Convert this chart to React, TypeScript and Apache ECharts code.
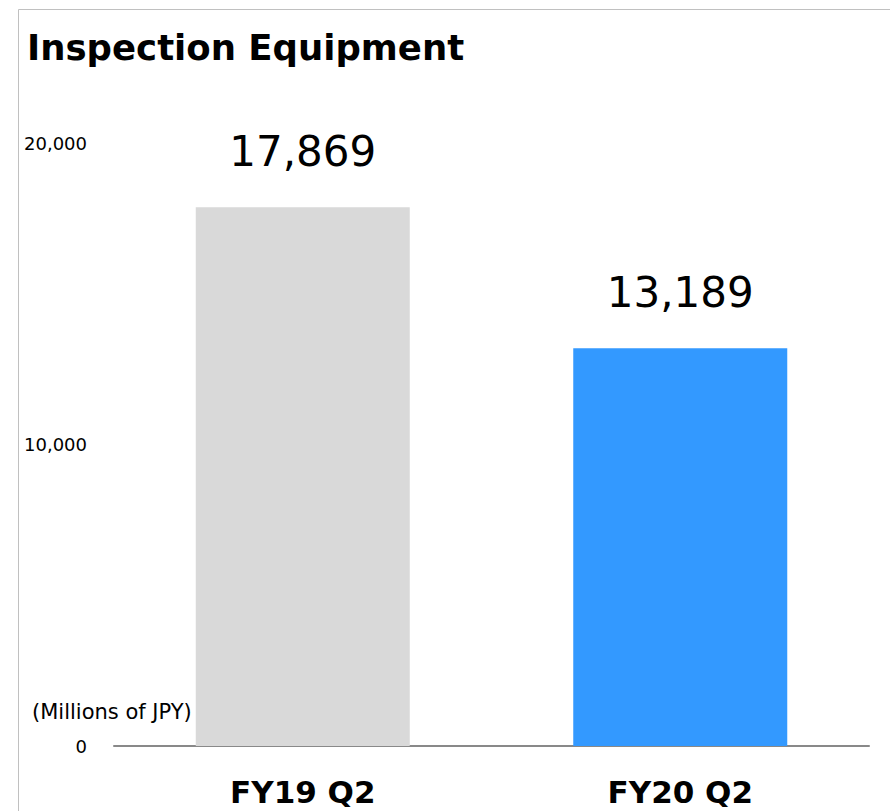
import React, { useEffect, useRef } from "react";
import * as echarts from "echarts";

const categories = ["FY19 Q2", "FY20 Q2"];
const values = [17869, 13189];
const barColors = ["#d9d9d9", "#3399ff"];
const yTicks = [0, 10000, 20000];
const titleText = "Inspection Equipment";
const unitText = "(Millions of JPY)";

const FONT = "'DejaVu Sans', Verdana, sans-serif";

export default function App() {
  const ref = useRef<HTMLDivElement>(null);
  useEffect(() => {
    if (!ref.current) return;
    const chart = echarts.init(ref.current, undefined, { renderer: "svg" });
    chart.setOption({
      animation: false,
      backgroundColor: "#ffffff",
      textStyle: { fontFamily: FONT },
      grid: { left: 114, right: 21, top: 143, bottom: 65, containLabel: false },
      xAxis: {
        type: "category",
        data: categories,
        axisLine: { lineStyle: { color: "#898989", width: 2 } },
        axisTick: { show: false },
        axisLabel: {
          color: "#000",
          fontSize: 31,
          fontWeight: "bold",
          fontFamily: FONT,
          margin: 30,
        },
      },
      yAxis: {
        type: "value",
        min: yTicks[0],
        max: yTicks[yTicks.length - 1],
        interval: 10000,
        splitLine: { show: false },
        axisLine: { show: false },
        axisTick: { show: false },
        axisLabel: {
          color: "#000",
          fontSize: 18,
          fontFamily: FONT,
          margin: 27,
          formatter: (v: number) => v.toLocaleString("en-US"),
        },
      },
      series: [
        {
          type: "bar",
          barWidth: 214,
          data: values.map((v, i) => ({ value: v, itemStyle: { color: barColors[i] } })),
          label: {
            show: true,
            position: "top",
            distance: 35,
            color: "#000",
            fontSize: 42,
            fontFamily: FONT,
            formatter: (p: any) => Number(p.value).toLocaleString("en-US"),
          },
        },
      ],
      graphic: [
        {
          type: "rect",
          shape: { x: 18.5, y: 9.5, width: 1000, height: 1000 },
          style: { fill: "none", stroke: "#c0c0c0", lineWidth: 1 },
          silent: true,
        },
        {
          type: "text",
          left: 27,
          top: 29,
          style: {
            text: titleText,
            fontSize: 35.5,
            fontWeight: "bold",
            fontFamily: FONT,
            fill: "#000",
          },
        },
        {
          type: "text",
          left: 32,
          top: 701,
          style: {
            text: unitText,
            fontSize: 21,
            fontFamily: FONT,
            fill: "#000",
          },
        },
      ],
    });
    return () => chart.dispose();
  }, []);
  return (
    <div
      ref={ref}
      style={{ position: "fixed", left: 0, top: 0, width: 890, height: 811 }}
    />
  );
}
